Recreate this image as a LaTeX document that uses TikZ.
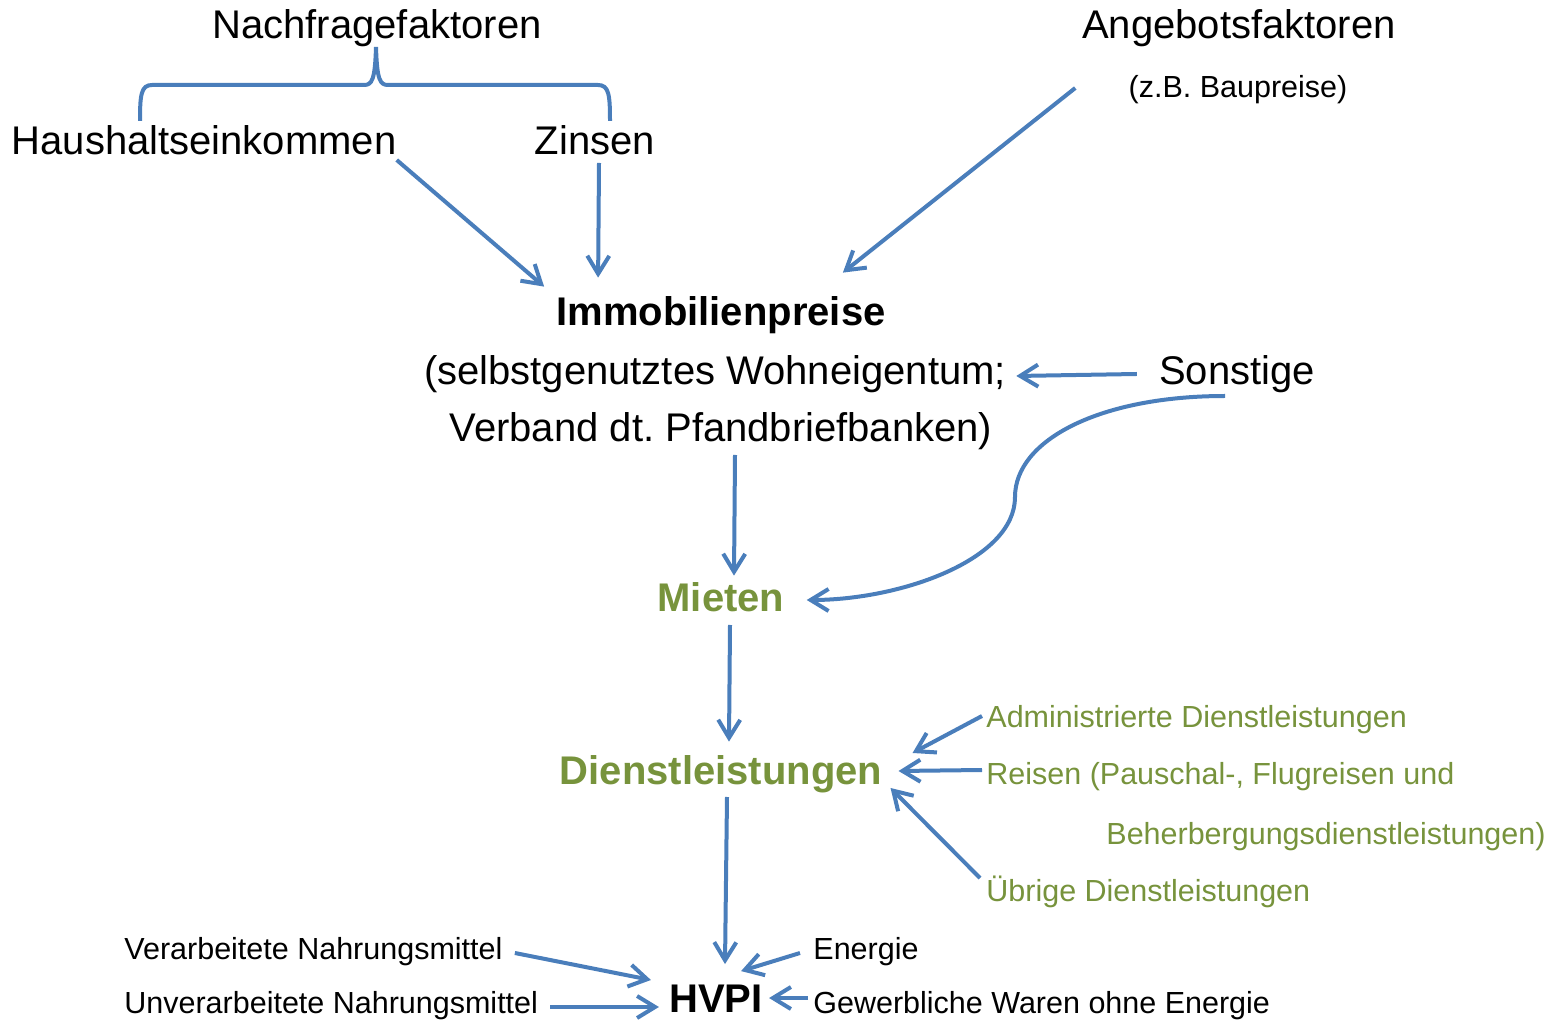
\documentclass[tikz,border=0pt]{standalone}
\usepackage{fontspec}
\setmainfont{Liberation Sans}
\usetikzlibrary{arrows.meta,calc}
\definecolor{lineblue}{RGB}{74,126,187}
\definecolor{olive}{RGB}{119,147,60}
\begin{document}
\frenchspacing
\begin{tikzpicture}[x=0.5pt,y=-0.5pt,
        txt/.style={inner sep=0pt,font=\fontsize{20}{24}\selectfont},
        small/.style={inner sep=0pt,font=\fontsize{15.25}{18}\selectfont},
        head/.style={inner sep=0pt,font=\fontsize{20}{24}\selectfont\bfseries},
        grn/.style={small,text=olive},
        link/.style={draw=lineblue,line width=2pt,-{Straight Barb[length=9pt,width=11pt]}}]
        \useasboundingbox (0,0) rectangle (1553,1020);

        \node[txt,anchor=base] (nach) at (377,39) {Nachfragefaktoren};
        \node[txt,anchor=base] (angebot) at (1239,39) {Angebotsfaktoren};
        \node[small,anchor=base] (zb) at (1238,98) {(z.B. Baupreise)};
        \node[txt,anchor=base] (hh) at (204,155) {Haushaltseinkommen};
        \node[txt,anchor=base] (zins) at (595,155) {Zinsen};

        \node[head,anchor=base] (immo) at (721,326) {Immobilienpreise};
        \node[txt,anchor=base] (selbst) at (715,385) {(selbstgenutztes Wohneigentum;};
        \node[txt,anchor=base] (verband) at (721,442) {Verband dt. Pfandbriefbanken)};
        \node[txt,anchor=base] (sonst) at (1237,385) {Sonstige};

        \node[head,text=olive,anchor=base] (mieten) at (721,612) {Mieten};
        \node[head,text=olive,anchor=base] (dienst) at (721,784) {Dienstleistungen};
        \node[grn,anchor=base west] (admin) at (986,728) {Administrierte Dienstleistungen};
        \node[grn,anchor=base west] (reisen) at (986,784) {Reisen (Pauschal-, Flugreisen und};
        \node[grn,anchor=base west] (beherb) at (1106,844) {Beherbergungsdienstleistungen)};
        \node[grn,anchor=base west] (uebrig) at (986,901) {Übrige Dienstleistungen};

        \node[head,anchor=base] (hvpi) at (716,1012) {HVPI};
        \node[small,anchor=base west] (verarb) at (124,959) {Verarbeitete Nahrungsmittel};
        \node[small,anchor=base west] (unverarb) at (124,1013) {Unverarbeitete Nahrungsmittel};
        \node[small,anchor=base west] (energie) at (813,959) {Energie};
        \node[small,anchor=base west] (gewerb) at (813,1013) {Gewerbliche Waren ohne Energie};

        % Klammer
        \draw[lineblue,line width=2pt] (140,121) .. controls (140,95) and (141,85) .. (152,85) -- (364,85)
            .. controls (372,85) and (375,80) .. (376,47) .. controls (377,80) and (380,85) .. (388,85)
            -- (598,85) .. controls (609,85) and (610,95) .. (610,121);

        \draw[link] ($(hh.base east)+(0,5)$) -- ($(immo.north west)+(-12,-10)$);
        \draw[link] ($(zins.base)+(4,8)$) -- ($(immo.north west)+(42,-19)$);
        \draw[link] ($(zb.base west)+(-53,-10)$) -- ($(immo.north east)+(-43,-24)$);
        \draw[link] ($(sonst.base west)+(-22,-11)$) -- ($(selbst.base east)+(10,-9)$);
        \draw[link] ($(sonst.base)+(-12,11)$) .. controls (1100,396) and (1015,440) .. (1015,497)
            .. controls (1015,560) and (900,600) .. ($(mieten.base east)+(22,-12)$);
        \draw[link] ($(verband.base)+(14,13)$) -- ($(mieten.north)+(13,-7)$);
        \draw[link] ($(mieten.base)+(9,13)$) -- ($(dienst.north)+(8,-13)$);
        \draw[link] ($(admin.base west)+(-4,-12)$) -- ($(dienst.base east)+(30,-31)$);
        \draw[link] ($(reisen.base west)+(-4,-14)$) -- ($(dienst.base east)+(16,-13)$);
        \draw[link] ($(uebrig.base west)+(-6,-23)$) -- ($(dienst.base east)+(8,4)$);
        \draw[link] ($(dienst.base)+(6,13)$) -- ($(hvpi.north)+(9,-20)$);
        \draw[link] ($(verarb.base east)+(12,-6)$) -- ($(hvpi.base west)+(-18,-32)$);
        \draw[link] ($(unverarb.base east)+(12,-6)$) -- ($(hvpi.base west)+(-10,-5)$);
        \draw[link] ($(energie.base west)+(-13,-6)$) -- ($(hvpi.north east)+(-22,-13)$);
        \draw[link] ($(gewerb.base west)+(-5,-15)$) -- ($(hvpi.base east)+(6,-14)$);
    \end{tikzpicture}
\end{document}
